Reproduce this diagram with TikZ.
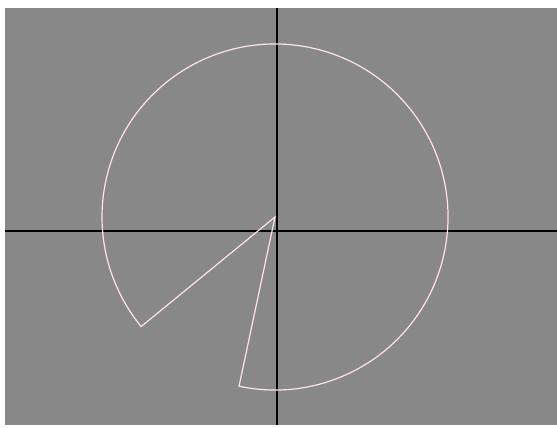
\documentclass[tikz,border=0pt]{standalone}
\usetikzlibrary{calc}
\definecolor{bggray}{RGB}{136,136,136}
\definecolor{pielinecol}{RGB}{255,225,240}
\begin{document}
\begin{tikzpicture}[x=1pt,y=1pt]
        \useasboundingbox[fill=white] (0,0) rectangle (557,428);
        \coordinate (SW) at (5,3);
        \coordinate (NE) at (557,420);
        \coordinate (O) at (275,211);
        \coordinate (B) at ($(O)+(258:173)$);
        \fill[bggray] (SW) rectangle (NE);
        % Axes
        \draw[black,line width=1.4pt] (5,197) -- (557,197);
        \draw[black,line width=1.4pt] (277,3) -- (277,420);
        % Pie with missing slice
        \draw[pielinecol,line width=1.2pt,line join=miter]
            (O) -- (B) arc[start angle=258,end angle=579.3,radius=173] -- cycle;
    \end{tikzpicture}
\end{document}
